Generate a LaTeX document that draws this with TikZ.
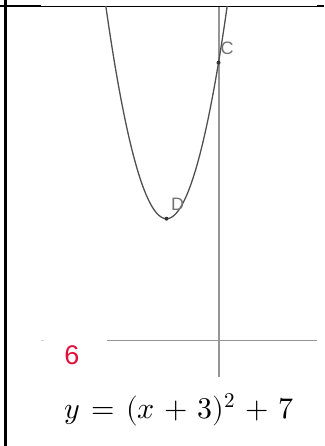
\documentclass[tikz,border=0pt]{standalone}
\usepackage{fontspec}
\usepackage{unicode-math}
\newfontfamily\labfont{Liberation Sans}
\definecolor{numred}{RGB}{224,16,58}
\definecolor{axisgray}{RGB}{150,150,150}
\definecolor{curvegray}{RGB}{80,80,80}
\newcommand{\gp}{\mskip 1.8mu}
\tikzset{
  frameline/.style={black, line width=2.4pt},
  thinframe/.style={black, line width=1.1pt},
  axisline/.style={axisgray, line width=1.5pt},
  curveline/.style={curvegray, line width=1.3pt},
  ptdot/.style={circle, fill=black!80, inner sep=0pt, minimum size=4pt},
  ptlabel/.style={text=black!55, font=\labfont\fontsize{18}{18}\selectfont, inner sep=0pt},
}
\begin{document}
\begin{tikzpicture}[x=1pt,y=-1pt]
\useasboundingbox (0,0) rectangle (324,446);
% frame
\coordinate (tl) at (0,6.3);
\coordinate (t1) at (41,6.3);
\coordinate (t2) at (317,6.3);
\coordinate (tr) at (324,6.3);
\coordinate (lt) at (5.3,0);
\coordinate (lb) at (5.3,446);
\draw[frameline] (tl) -- (t1);
\draw[thinframe] (t1) -- (t2);
\draw[frameline] (t2) -- (tr);
\draw[frameline] (lt) -- (lb);
% axes
\coordinate (yt) at (219,7);
\coordinate (yb) at (219,377);
\coordinate (xl) at (107,340.5);
\coordinate (xr) at (317,340.5);
\coordinate (xf1) at (41,340.5);
\coordinate (xf2) at (44,340.5);
\draw[axisline] (yt) -- (yb);
\draw[axisline] (xl) -- (xr);
\draw[axisgray!40, line width=1.4pt] (xf1) -- (xf2);
% parabola
\begin{scope}
\clip (0,7) rectangle (324,446);
\draw[curveline] plot[domain=-6.56:0.56, samples=100, smooth] ({218.5+17.33*\x}, {340-17.33*((\x+3)^2+7)});
\end{scope}
% points
\node[ptdot] (D) at (166.5,218.7) {};
\node[ptdot] (C) at (218.5,62.7) {};
\node[ptlabel] (Dl) at (177.5,204) {D};
\node[ptlabel] (Cl) at (227,48.5) {C};
% labels
\node[text=numred, font=\labfont\fontsize{27}{27}\selectfont, inner sep=0pt] (six) at (72,355) {6};
\node[anchor=base, inner sep=0pt, font=\fontsize{30}{32}\selectfont] (eq) at (179,418) {$y\gp=\gp(x\gp+\gp3)^2\gp+\gp7$};
\end{tikzpicture}
\end{document}
